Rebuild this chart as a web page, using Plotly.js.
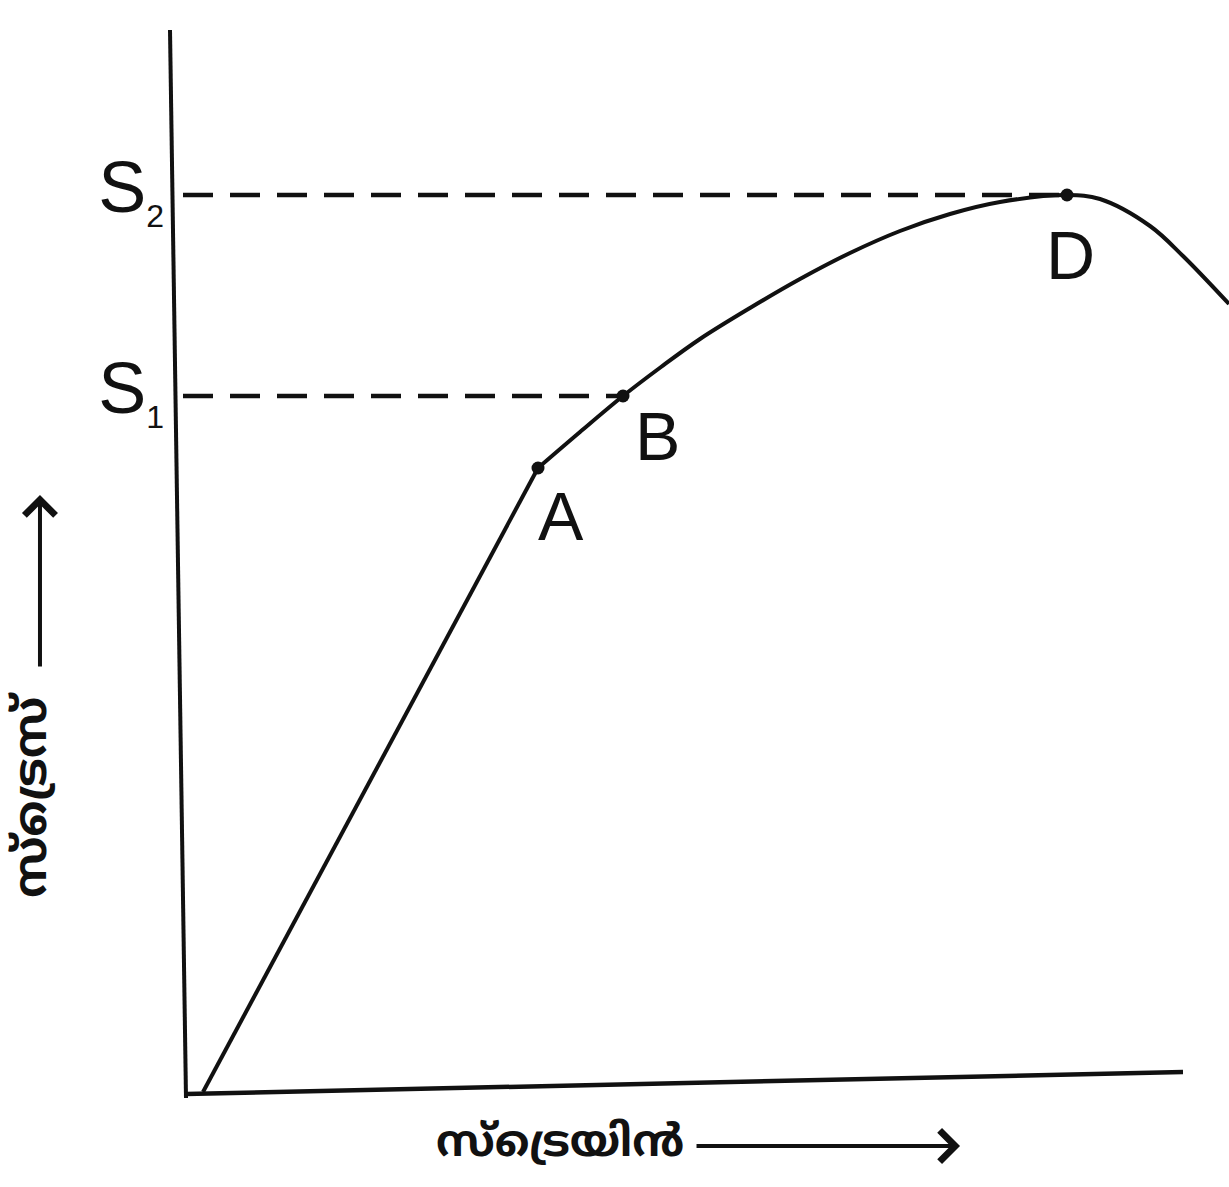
<!DOCTYPE html>
<html>
<head>
<meta charset="utf-8">
<script src="https://cdn.plot.ly/plotly-3.0.1.min.js"></script>
<style>
  body { margin: 0; background: #ffffff; }
  #plot { width: 1229px; height: 1187px; }
</style>
</head>
<body>
<div id="plot"></div>
<script>
// elastic part, origin to A (straight)
var elastic_x = [2.0, 35.5];
var elastic_y = [0.2, 62.6];

// plastic part, A through B and D to the end (smooth)
var plastic_x = [35.5, 39.7, 44.0, 47.8, 51.7, 56.7, 61.7, 66.7, 71.7, 76.7, 81.7, 88.4, 91.7, 96.7, 100.0, 104.6];
var plastic_y = [62.6, 66.2, 69.8, 72.7, 75.5, 78.6, 81.5, 84.1, 86.3, 88.0, 89.2, 89.9, 89.5, 86.8, 83.8, 79.0];

// marked points
var point_names = ['A', 'B', 'D'];
var point_x = [35.5, 44.0, 88.4];
var point_y = [62.6, 69.8, 89.9];

// stress levels on the y axis
var stress_vals = [69.8, 89.9];
var stress_text = ['S<sub><span style="font-size:32px">1</span></sub>',
                   'S<sub><span style="font-size:32px">2</span></sub>'];

var x_title = 'സ്ട്രെയിൻ';
var y_title = 'സ്ട്രെസ്';

var ink = '#111111';

var trace1 = {
  x: elastic_x,
  y: elastic_y,
  mode: 'lines',
  type: 'scatter',
  line: {color: ink, width: 4},
  hoverinfo: 'skip'
};

var trace2 = {
  x: plastic_x,
  y: plastic_y,
  mode: 'lines',
  type: 'scatter',
  line: {color: ink, width: 4, shape: 'spline', smoothing: 1},
  hoverinfo: 'skip'
};

// dashed guides from the y axis to B and D
var trace3 = {
  x: [0, point_x[1]],
  y: [stress_vals[0], stress_vals[0]],
  mode: 'lines',
  type: 'scatter',
  line: {color: ink, width: 4.5, dash: '30px,17px'},
  hoverinfo: 'skip'
};

var trace4 = {
  x: [0, point_x[2]],
  y: [stress_vals[1], stress_vals[1]],
  mode: 'lines',
  type: 'scatter',
  line: {color: ink, width: 4.5, dash: '30px,17px'},
  hoverinfo: 'skip'
};

var trace5 = {
  x: point_x,
  y: point_y,
  mode: 'markers',
  type: 'scatter',
  marker: {color: ink, size: 13},
  hoverinfo: 'skip'
};

// label offsets (pixels) from each point
var label_dx = [23, 34, 3];
var label_dy = [-48, -40, -60];

var annos = [];
for(var i = 0; i < point_names.length; i++){
  annos.push({
    x: point_x[i], y: point_y[i], xref: 'x', yref: 'y',
    text: point_names[i], showarrow: false,
    xshift: label_dx[i], yshift: label_dy[i],
    font: {family: 'Liberation Sans, Arial, sans-serif', size: 68, color: ink}
  });
}

// paper coords: x = (px-165)/1064, y = (1100-py)/1070
annos.push({
  x: 0.3712, y: -0.0421, xref: 'paper', yref: 'paper',
  text: '<b>' + x_title + '</b>', showarrow: false,
  xanchor: 'center', yanchor: 'middle',
  font: {family: 'Noto Sans Malayalam, Noto Sans, sans-serif', size: 44, color: ink}
});
annos.push({
  x: 0.7472, y: -0.043, xref: 'paper', yref: 'paper',
  text: '', showarrow: true, ax: -265, ay: 0,
  arrowhead: 4, arrowsize: 1.5, arrowwidth: 4, arrowcolor: ink
});
annos.push({
  x: -0.1222, y: 0.285, xref: 'paper', yref: 'paper',
  text: '<b>' + y_title + '</b>', showarrow: false, textangle: -90,
  xanchor: 'center', yanchor: 'middle',
  font: {family: 'Noto Sans Malayalam, Noto Sans, sans-serif', size: 46, color: ink}
});
annos.push({
  x: -0.1175, y: 0.5654, xref: 'paper', yref: 'paper',
  text: '', showarrow: true, ax: 0, ay: 173,
  arrowhead: 4, arrowsize: 1.5, arrowwidth: 4, arrowcolor: ink
});

var layout = {
  width: 1229,
  height: 1187,
  margin: {l: 165, r: 0, t: 30, b: 87},
  paper_bgcolor: '#ffffff',
  plot_bgcolor: '#ffffff',
  showlegend: false,
  xaxis: {
    range: [-1.8, 104.6],
    showgrid: false, zeroline: false, showline: false,
    showticklabels: false, ticks: ''
  },
  yaxis: {
    range: [-0.6, 106.4],
    showgrid: false, zeroline: false, showline: false,
    tickvals: stress_vals, ticktext: stress_text,
    ticks: '', ticklabelshift: -8,
    tickfont: {family: 'Liberation Sans, Arial, sans-serif', size: 72, color: ink}
  },
  // hand drawn axes, slightly skewed like the scan
  shapes: [
    {type: 'line', xref: 'x', yref: 'y', x0: -1.3, y0: 106.4, x1: 0.3, y1: -0.4,
     line: {color: ink, width: 4}},
    {type: 'line', xref: 'x', yref: 'y', x0: 0.3, y0: 0, x1: 100, y1: 2.2,
     line: {color: ink, width: 4.5}}
  ],
  annotations: annos
};

var pdata = [trace1, trace2, trace3, trace4, trace5];
Plotly.newPlot('plot', pdata, layout, {displayModeBar: false, staticPlot: true});
</script>
</body>
</html>
